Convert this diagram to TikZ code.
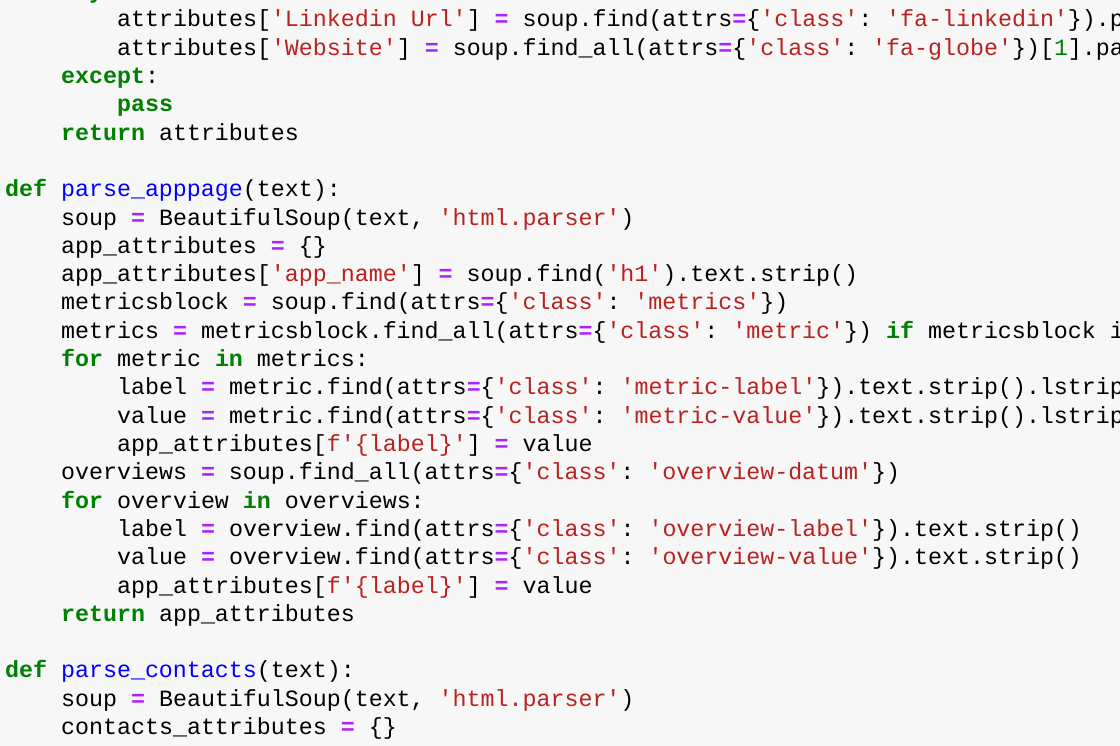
\documentclass[tikz,border=0pt]{standalone}
\usepackage{fontspec}
\setmonofont{Liberation Mono}
\usetikzlibrary{positioning}
\definecolor{codebg}{HTML}{F7F7F7}
\definecolor{kwgreen}{HTML}{008000}
\definecolor{fnblue}{HTML}{0000FF}
\definecolor{strred}{HTML}{BA2121}
\definecolor{oppurple}{HTML}{AA22FF}
\newcommand{\kw}[1]{\textcolor{kwgreen}{\bfseries #1}}
\newcommand{\fn}[1]{\textcolor{fnblue}{#1}}
\newcommand{\st}[1]{\textcolor{strred}{#1}}
\newcommand{\eq}{\textcolor{oppurple}{\bfseries =}}
\newcommand{\nm}[1]{\textcolor{kwgreen}{#1}}
\tikzset{code/.style={anchor=base west, inner sep=0pt, font=\fontsize{23.3}{28}\selectfont\ttfamily}}
\begin{document}
\begin{tikzpicture}[x=1pt,y=-1pt]
\fill[codebg] (0,0) rectangle (1120,746);
\useasboundingbox (0,0) rectangle (1120,746);
\clip (0,0) rectangle (1120,746);
\node[code] (l0) at (61,-1.3) {\kw{try}:};   %cut off at top
\node[code] (l1) at (117,27) {attributes[\st{'Linkedin Url'}] \eq{} soup.find(attrs\eq\{\st{'class'}: \st{'fa-linkedin'}\}).p};
\node[code] (l2) at (117,55.3) {attributes[\st{'Website'}] \eq{} soup.find\_all(attrs\eq\{\st{'class'}: \st{'fa-globe'}\})[\nm{1}].pa};
\node[code] (l3) at (61,83.6) {\kw{except}:};
\node[code] (l4) at (117,111.9) {\kw{pass}};
\node[code] (l5) at (61,140.2) {\kw{return} attributes};
% parse_apppage
\node[code] (l7) at (5,196.8) {\kw{def} \fn{parse\_apppage}(text):};
\node[code] (l8) at (61,225.1) {soup \eq{} BeautifulSoup(text, \st{'html.parser'})};
\node[code] (l9) at (61,253.4) {app\_attributes \eq{} \{\}};
\node[code] (l10) at (61,281.7) {app\_attributes[\st{'app\_name'}] \eq{} soup.find(\st{'h1'}).text.strip()};
\node[code] (l11) at (61,310) {metricsblock \eq{} soup.find(attrs\eq\{\st{'class'}: \st{'metrics'}\})};
\node[code] (l12) at (61,338.3) {metrics \eq{} metricsblock.find\_all(attrs\eq\{\st{'class'}: \st{'metric'}\}) \kw{if} metricsblock i};
\node[code] (l13) at (61,366.6) {\kw{for} metric \kw{in} metrics:};
\node[code] (l14) at (117,394.9) {label \eq{} metric.find(attrs\eq\{\st{'class'}: \st{'metric-label'}\}).text.strip().lstrip};
\node[code] (l15) at (117,423.2) {value \eq{} metric.find(attrs\eq\{\st{'class'}: \st{'metric-value'}\}).text.strip().lstrip};
\node[code] (l16) at (117,451.5) {app\_attributes[\st{f'\{label\}'}] \eq{} value};
\node[code] (l17) at (61,479.8) {overviews \eq{} soup.find\_all(attrs\eq\{\st{'class'}: \st{'overview-datum'}\})};
\node[code] (l18) at (61,508.1) {\kw{for} overview \kw{in} overviews:};
\node[code] (l19) at (117,536.4) {label \eq{} overview.find(attrs\eq\{\st{'class'}: \st{'overview-label'}\}).text.strip()};
\node[code] (l20) at (117,564.7) {value \eq{} overview.find(attrs\eq\{\st{'class'}: \st{'overview-value'}\}).text.strip()};
\node[code] (l21) at (117,593) {app\_attributes[\st{f'\{label\}'}] \eq{} value};
\node[code] (l22) at (61,621.3) {\kw{return} app\_attributes};
% parse_contacts
\node[code] (l24) at (5,677.9) {\kw{def} \fn{parse\_contacts}(text):};
\node[code] (l25) at (61,706.2) {soup \eq{} BeautifulSoup(text, \st{'html.parser'})};
\node[code] (l26) at (61,734.5) {contacts\_attributes \eq{} \{\}};
\end{tikzpicture}
\end{document}
